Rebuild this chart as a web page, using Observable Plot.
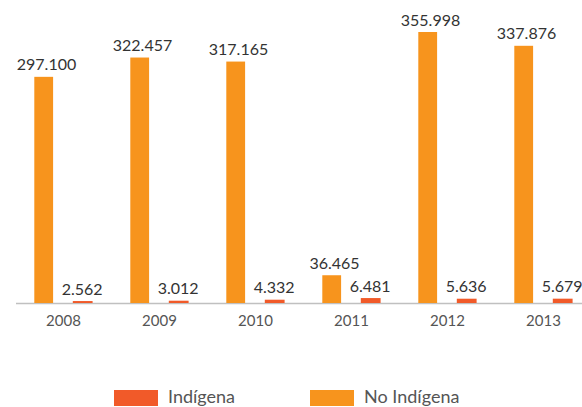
<!DOCTYPE html>
<html>
<head>
<meta charset="utf-8">
<script src="https://cdn.jsdelivr.net/npm/d3@7"></script>
<script src="https://cdn.jsdelivr.net/npm/@observablehq/plot@0.6"></script>
<style>
  body { margin: 0; background: #fff; font-family: Lato, sans-serif; overflow: hidden; }
  #chart svg { display: block; }
  #legend { display: flex; align-items: flex-start; padding-left: 114px; margin-top: 48px; color: #555; font-size: 18px; line-height: 16px; }
  .item { display: flex; align-items: flex-start; }
  .sw { width: 44px; height: 16px; margin-right: 10px; margin-top: 2px; }
</style>
</head>
<body>
<div id="chart"></div>
<div id="legend"></div>
<script>
const years = ["2008", "2009", "2010", "2011", "2012", "2013"];
const noIndigena = [297100, 322457, 317165, 36465, 355998, 337876];
const indigena = [2562, 3012, 4332, 6481, 5636, 5679];
const seriesNames = ["Indígena", "No Indígena"];
const seriesColors = ["#F15A29", "#F7941D"];

const loc = d3.formatLocale({decimal: ",", thousands: ".", grouping: [3], currency: ["", ""]});
const fmt = loc.format(",d");

const noData = years.map((year, i) => ({year, value: noIndigena[i]}));
const inData = years.map((year, i) => ({year, value: indigena[i]}));

const chart = Plot.plot({
  width: 582,
  height: 340,
  marginLeft: 16,
  marginRight: 0,
  marginTop: 32,
  marginBottom: 37,
  style: {fontFamily: "Lato, sans-serif", color: "#555", background: "#fff"},
  x: {domain: years, range: [13.9, 591.1], padding: 0, label: null},
  y: {domain: [0, d3.max(noIndigena)], axis: null},
  marks: [
    Plot.ruleY([0], {stroke: "#c0c0c0", strokeWidth: 1.5}),
    Plot.barY(noData, {x: "year", y: "value", fill: seriesColors[1], insetLeft: 19.3, insetRight: 57.9}),
    Plot.barY(inData, {x: "year", y: "value", fill: seriesColors[0], insetLeft: 57.8, insetRight: 18.4}),
    Plot.text(noData, {x: "year", y: "value", text: d => fmt(d.value), dx: -17, dy: -7, lineAnchor: "bottom", fontSize: 16, fill: "#333"}),
    Plot.text(inData, {x: "year", y: "value", text: d => fmt(d.value), dx: 18.7, dy: -7, lineAnchor: "bottom", fontSize: 16, fill: "#333"}),
    Plot.axisX({tickSize: 0, tickPadding: 12, fontSize: 15, label: null, letterSpacing: "0.8px"})
  ]
});
document.getElementById("chart").appendChild(chart);

const legend = document.getElementById("legend");
seriesNames.forEach((name, i) => {
  const item = document.createElement("div");
  item.className = "item";
  if (i === 0) item.style.marginRight = "75px";
  const sw = document.createElement("div");
  sw.className = "sw";
  sw.style.background = seriesColors[i];
  const t = document.createElement("span");
  t.textContent = name;
  item.appendChild(sw);
  item.appendChild(t);
  legend.appendChild(item);
});
</script>
</body>
</html>
